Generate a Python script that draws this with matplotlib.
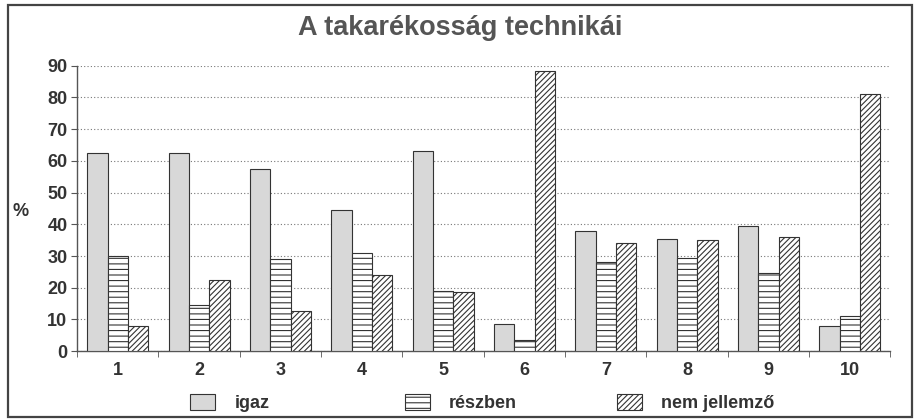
import numpy as np
import matplotlib.pyplot as plt
from matplotlib.patches import Rectangle, Patch

plt.rcParams['font.family'] = ['Liberation Sans', 'DejaVu Sans']
plt.rcParams['hatch.linewidth'] = 0.8

######### DATA ##############
categories = ['1', '2', '3', '4', '5', '6', '7', '8', '9', '10']
igaz = [62.5, 62.5, 57.5, 44.5, 63, 8.5, 38, 35.5, 39.5, 8]
reszben = [30, 14.5, 29, 31, 19, 3.5, 28, 29.5, 24.5, 11]
nem_jellemzo = [8, 22.5, 12.5, 24, 18.5, 88.5, 34, 35, 36, 81]
series_names = ['igaz', 'részben', 'nem jellemző']
##############################

fig = plt.figure(figsize=(9.18, 4.19), dpi=100)
ax = fig.add_axes([0.084, 0.162, 0.886, 0.681])

## OUTER FRAME
fig.patches.append(Rectangle((0.009, 0.005), 0.985, 0.983, transform=fig.transFigure,
                             fill=False, edgecolor='#444444', linewidth=1.6))

x = np.arange(len(categories))
w = 0.25
ec = '#333333'
fills = ['#d8d8d8', 'white', 'white']
hatches = [None, '---', '//////']
for i, vals in enumerate([igaz, reszben, nem_jellemzo]):
    ax.bar(x + (i - 1) * w, vals, w, color=fills[i], edgecolor=ec,
           hatch=hatches[i], linewidth=0.8, zorder=3)

## AXES STYLE
ax.set_xlim(-0.5, len(categories) - 0.5)
ax.set_ylim(0, 90)
ax.set_yticks(range(0, 91, 10))
ax.set_xticks(x)
ax.set_xticklabels(categories)
ax.set_xticks(np.arange(-0.5, len(categories), 1), minor=True)
ax.tick_params(axis='x', which='major', length=0, pad=8)
ax.tick_params(axis='x', which='minor', length=4, color='#555555', direction='out')
ax.tick_params(axis='y', length=4, color='#555555', pad=3)
for lab in ax.get_xticklabels() + ax.get_yticklabels():
    lab.set_fontsize(13)
    lab.set_fontweight('bold')
    lab.set_color('#333333')
for s in ['top', 'right']:
    ax.spines[s].set_visible(False)
for s in ['left', 'bottom']:
    ax.spines[s].set_color('#555555')
    ax.spines[s].set_linewidth(1.0)
ax.yaxis.grid(True, linestyle=(0, (1, 2)), color='#777777', linewidth=0.8, zorder=0)
ax.set_axisbelow(True)

fig.text(0.501, 0.932, 'A takarékosság technikái', ha='center', va='center',
         fontsize=19.5, fontweight='bold', color='#555555')
fig.text(0.022, 0.495, '%', ha='center', va='center', fontsize=13,
         fontweight='bold', color='#333333')

## LEGEND (three entries placed separately)
leg_x = [0.207, 0.441, 0.672]
for i in range(3):
    h = Patch(facecolor=fills[i], edgecolor=ec, hatch=hatches[i], linewidth=0.8)
    leg = fig.legend([h], [series_names[i]], loc='center left',
                     bbox_to_anchor=(leg_x[i], 0.038), frameon=False,
                     borderpad=0, borderaxespad=0, handlelength=1.4,
                     handleheight=0.95, handletextpad=1.05,
                     prop={'size': 13, 'weight': 'bold'})
    for t in leg.get_texts():
        t.set_color('#333333')

plt.savefig('out.png', dpi=100)
